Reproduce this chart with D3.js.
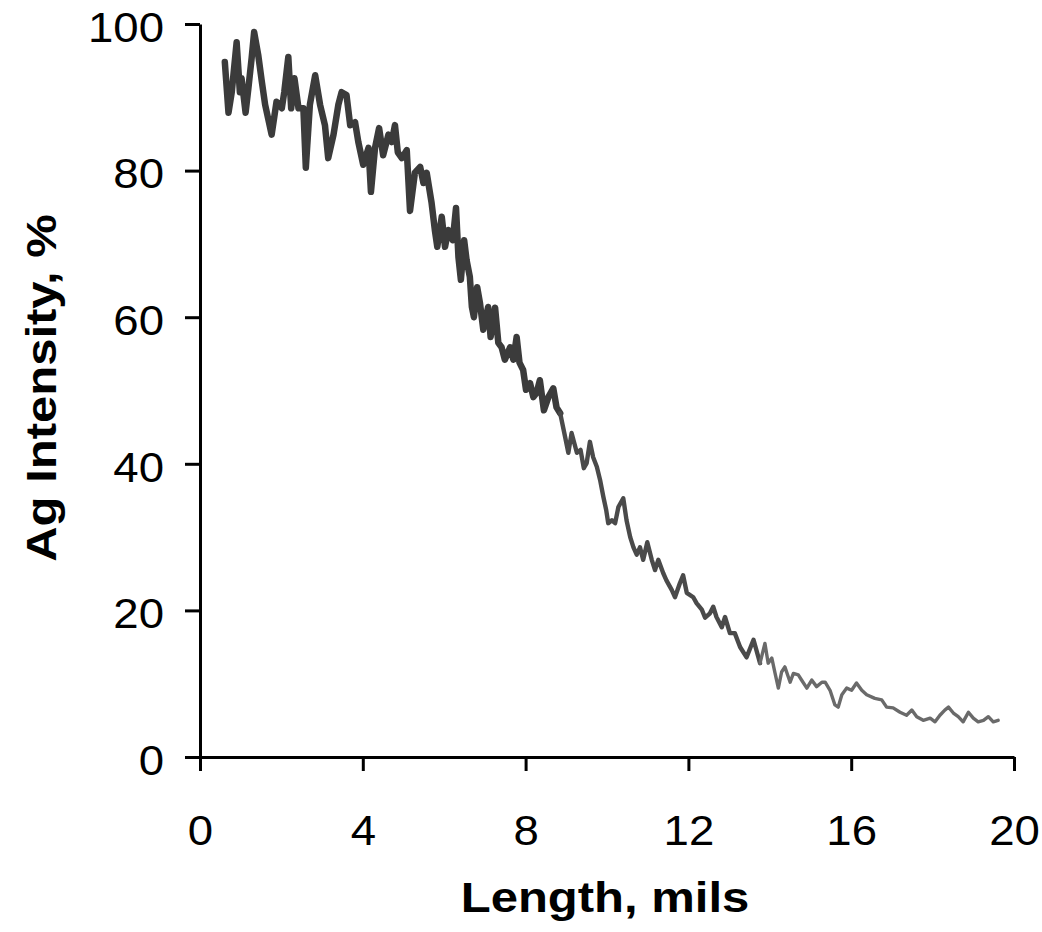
<!DOCTYPE html>
<html>
<head>
<meta charset="utf-8">
<script src="https://cdn.jsdelivr.net/npm/d3@7"></script>
<style>
  html, body { margin: 0; padding: 0; background: #fff; }
  svg { display: block; }
</style>
</head>
<body>
<svg id="chart" width="1042" height="932"></svg>
<script>
// ---- Data ----
const xTicks = [0, 4, 8, 12, 16, 20];
const yTicks = [0, 20, 40, 60, 80, 100];

// Segment 1: dense, thick trace (~0.6 - 8.85 mils)
const lengthA = [0.61,0.70,0.78,0.90,0.98,1.02,1.12,1.19,1.27,1.33,1.43,1.52,1.60,1.76,1.88,2.01,2.07,2.17,2.24,2.32,2.42,2.54,2.60,2.70,2.83,2.95,3.07,3.15,3.28,3.40,3.48,3.60,3.69,3.81,3.89,4.01,4.14,4.20,4.30,4.40,4.50,4.63,4.71,4.79,4.86,4.96,5.08,5.16,5.28,5.41,5.49,5.57,5.69,5.77,5.83,5.94,6.02,6.10,6.21,6.29,6.35,6.41,6.49,6.55,6.63,6.68,6.73,6.81,6.88,6.96,7.08,7.14,7.25,7.33,7.41,7.49,7.62,7.70,7.78,7.85,7.94,8.01,8.11,8.19,8.27,8.35,8.45,8.56,8.68,8.76,8.85];
const intensityA = [94.8,87.9,90.7,97.5,90.7,92.6,87.9,91.3,95.4,98.9,95.8,92.1,89.0,84.9,89.4,88.5,90.7,95.5,88.5,92.6,88.5,88.5,80.4,89.0,93.0,89.0,86.2,81.7,84.9,89.0,90.7,90.3,86.2,86.6,83.9,80.8,83.1,77.1,83.1,85.8,82.1,84.9,83.9,86.2,82.5,81.7,82.8,74.5,79.7,80.5,78.3,79.7,75.6,71.9,69.6,73.7,69.6,71.9,70.5,74.9,68.2,65.1,70.5,67.8,65.5,61.4,60.0,64.1,61.9,58.3,61.4,57.3,61.3,56.5,55.9,54.2,55.9,54.2,57.3,53.8,52.8,50.1,51.0,49.1,49.7,51.4,47.3,49.1,50.3,47.7,46.9];

// Segment 2: medium trace (8.85 - 13.76 mils)
const lengthB = [8.85,8.97,9.05,9.13,9.26,9.35,9.43,9.50,9.58,9.66,9.75,9.83,9.91,9.98,10.03,10.12,10.20,10.28,10.40,10.48,10.57,10.65,10.73,10.81,10.89,10.99,11.10,11.18,11.26,11.38,11.46,11.59,11.67,11.79,11.87,11.96,12.12,12.20,12.33,12.41,12.53,12.61,12.69,12.82,12.90,13.02,13.14,13.27,13.43,13.60,13.76];
const intensityB = [46.9,43.7,41.5,44.2,41.5,41.9,39.4,40.1,43.0,40.9,39.6,37.8,35.5,33.7,31.9,32.3,31.9,34.1,35.3,32.3,30.0,28.6,27.6,28.6,26.9,29.3,26.9,25.5,26.9,25.1,24.1,22.8,21.8,23.7,24.8,22.4,21.8,21.0,20.1,19.0,19.6,20.5,19.1,17.7,19.1,16.9,16.9,15.0,13.6,16.0,12.8];

// Segment 3: thin, faint tail (13.76 - 19.6 mils)
const lengthC = [13.76,13.88,13.96,14.05,14.13,14.21,14.29,14.37,14.50,14.58,14.70,14.78,14.91,15.03,15.15,15.28,15.36,15.48,15.60,15.68,15.77,15.89,16.01,16.13,16.26,16.38,16.58,16.75,16.87,17.03,17.20,17.36,17.49,17.61,17.77,17.94,18.06,18.18,18.30,18.39,18.51,18.63,18.75,18.88,19.00,19.12,19.25,19.37,19.49,19.61];
const intensityC = [12.8,15.5,12.8,13.5,11.4,9.4,11.6,12.3,10.2,11.4,11.2,10.5,9.4,10.5,9.6,10.2,10.2,9.1,7.1,6.8,8.5,9.4,9.1,10.1,9.1,8.5,8.0,7.8,6.8,6.7,6.1,5.7,6.4,5.5,5.0,5.3,4.8,5.7,6.4,6.8,6.0,5.5,4.8,6.1,5.3,4.8,5.0,5.5,4.8,5.0];

// ---- Layout ----
const svg = d3.select("#chart");
const plotLeft = 200, plotRight = 1014, plotTop = 24, plotBottom = 757;
const FONT = "'Liberation Sans', Arial, Helvetica, sans-serif";
const STRETCH = 1.06;

const x = d3.scaleLinear().domain([0, 20]).range([plotLeft, plotRight]);
const y = d3.scaleLinear().domain([0, 100]).range([plotBottom, plotTop]);

svg.append("rect").attr("width", 1042).attr("height", 932).attr("fill", "#fff");

// ---- Trace ----
const line = d3.line().x(d => x(d[0])).y(d => y(d[1]));
const segs = [
  { xs: lengthA, ys: intensityA, color: "#3b3b3b", w: 6.5 },
  { xs: lengthB, ys: intensityB, color: "#4a4a4a", w: 4.4 },
  { xs: lengthC, ys: intensityC, color: "#6a6a6a", w: 3.4 }
];
segs.forEach(s => {
  svg.append("path")
    .datum(s.xs.map((v, i) => [v, s.ys[i]]))
    .attr("d", line)
    .attr("fill", "none")
    .attr("stroke", s.color)
    .attr("stroke-width", s.w)
    .attr("stroke-linejoin", "round")
    .attr("stroke-linecap", "round");
});

// ---- Axes ----
const xAxis = d3.axisBottom(x).tickValues(xTicks).tickSize(14).tickSizeOuter(0).tickFormat(d3.format("d"));
const yAxis = d3.axisLeft(y).tickValues(yTicks).tickSize(15).tickSizeOuter(0).tickFormat(d3.format("d"));

const gx = svg.append("g").attr("transform", `translate(0,${plotBottom})`).call(xAxis);
const gy = svg.append("g").attr("transform", `translate(${plotLeft},0)`).call(yAxis);

[gx, gy].forEach(g => {
  g.select(".domain").attr("stroke", "#000").attr("stroke-width", 3);
  g.selectAll(".tick line").attr("stroke", "#000").attr("stroke-width", 3);
  g.selectAll(".tick text")
    .attr("fill", "#000")
    .style("font-family", FONT)
    .style("font-size", "43px");
});

gx.selectAll(".tick text")
  .attr("y", 88).attr("dy", 0)
  .attr("transform", `scale(${STRETCH},1)`);
gy.selectAll(".tick text")
  .attr("x", -36 / STRETCH).attr("dy", "0.4em")
  .attr("transform", `scale(${STRETCH},1)`);

// ---- Axis titles ----
svg.append("text")
  .attr("transform", `translate(605,912) scale(1.14,1)`)
  .attr("text-anchor", "middle")
  .style("font-family", FONT)
  .style("font-weight", "bold")
  .style("font-size", "43px")
  .attr("fill", "#000")
  .text("Length, mils");

svg.append("text")
  .attr("transform", `translate(56,388) rotate(-90) scale(1.14,1)`)
  .attr("text-anchor", "middle")
  .style("font-family", FONT)
  .style("font-weight", "bold")
  .style("font-size", "43px")
  .attr("fill", "#000")
  .text("Ag Intensity, %");
</script>
</body>
</html>
